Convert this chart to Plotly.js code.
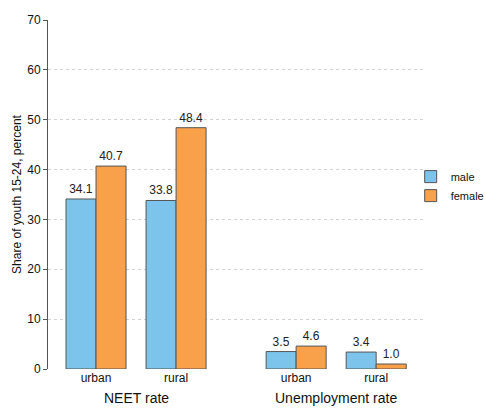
<!DOCTYPE html>
<html>
<head>
<meta charset="utf-8">
<script src="https://cdn.plot.ly/plotly-3.0.1.min.js"></script>
<style>html,body{margin:0;padding:0;background:#fff;}#chart{width:485px;height:409px;}</style>
</head>
<body>
<div id="chart"></div>
<script>
// Data
const categories = ["urban", "rural", "urban", "rural"];
const categoryPos = [0, 1, 2.5, 3.5];
const groups = ["NEET rate", "Unemployment rate"];
const groupMembers = [[0, 1], [2, 3]];
const maleValues = [34.1, 33.8, 3.5, 3.4];
const femaleValues = [40.7, 48.4, 4.6, 1.0];
const seriesNames = ["male", "female"];
const yTicks = [0, 10, 20, 30, 40, 50, 60, 70];

const FONT = "Liberation Sans Narrow, Arial Narrow, Liberation Sans, Arial, sans-serif";
const barW = 0.375;

function barTrace(name, vals, color, offset) {
  return {
    type: "bar", name: name, x: categoryPos, y: vals,
    width: barW, offset: offset,
    marker: {color: color, line: {color: "#555555", width: 1}},
    text: vals.map(v => v.toFixed(1)), textposition: "outside",
    textfont: {family: FONT, size: 12, color: "#222"},
    cliponaxis: false, hoverinfo: "skip"
  };
}

const data = [
  barTrace(seriesNames[0], maleValues, "#7cc4ec", -barW),
  barTrace(seriesNames[1], femaleValues, "#f9a04b", 0)
];

const annotations = groups.map((g, i) => {
  const m = groupMembers[i].map(k => categoryPos[k]);
  return {
    text: g, x: (m[0] + m[m.length - 1]) / 2, xref: "x",
    y: 0, yref: "paper", yshift: -19, yanchor: "top", showarrow: false,
    font: {family: FONT, size: 14, color: "#111"}
  };
});

const layout = {
  width: 485, height: 409,
  margin: {l: 48, r: 60, t: 20, b: 40, pad: 0, autoexpand: false},
  paper_bgcolor: "#fff", plot_bgcolor: "#fff",
  showlegend: true,
  legend: {x: 0.962, xanchor: "left", y: 0.524, yanchor: "middle", bgcolor: "rgba(0,0,0,0)",
           font: {family: FONT, size: 11, color: "#111"}, tracegroupgap: 2, itemwidth: 30},
  bargap: 0,
  xaxis: {
    range: [-0.6, 4.11], tickvals: categoryPos, ticktext: categories,
    showgrid: false, zeroline: false, showline: false, ticks: "",
    tickfont: {family: FONT, size: 12, color: "#111"}, fixedrange: true
  },
  yaxis: {
    range: [0, 70], tickvals: yTicks, ticks: "outside", ticklen: 4, tickcolor: "#555",
    showline: true, linecolor: "#555", linewidth: 1,
    showgrid: true, gridcolor: "#d2d2d2", griddash: "dot", gridwidth: 1,
    zeroline: false,
    tickfont: {family: FONT, size: 12, color: "#111"},
    title: {text: "Share of youth 15-24, percent", font: {family: FONT, size: 12, color: "#111"}, standoff: 3},
    fixedrange: true
  },
  annotations: annotations,
  font: {family: FONT}
};

Plotly.newPlot("chart", data, layout, {displayModeBar: false, staticPlot: true});
</script>
</body>
</html>
